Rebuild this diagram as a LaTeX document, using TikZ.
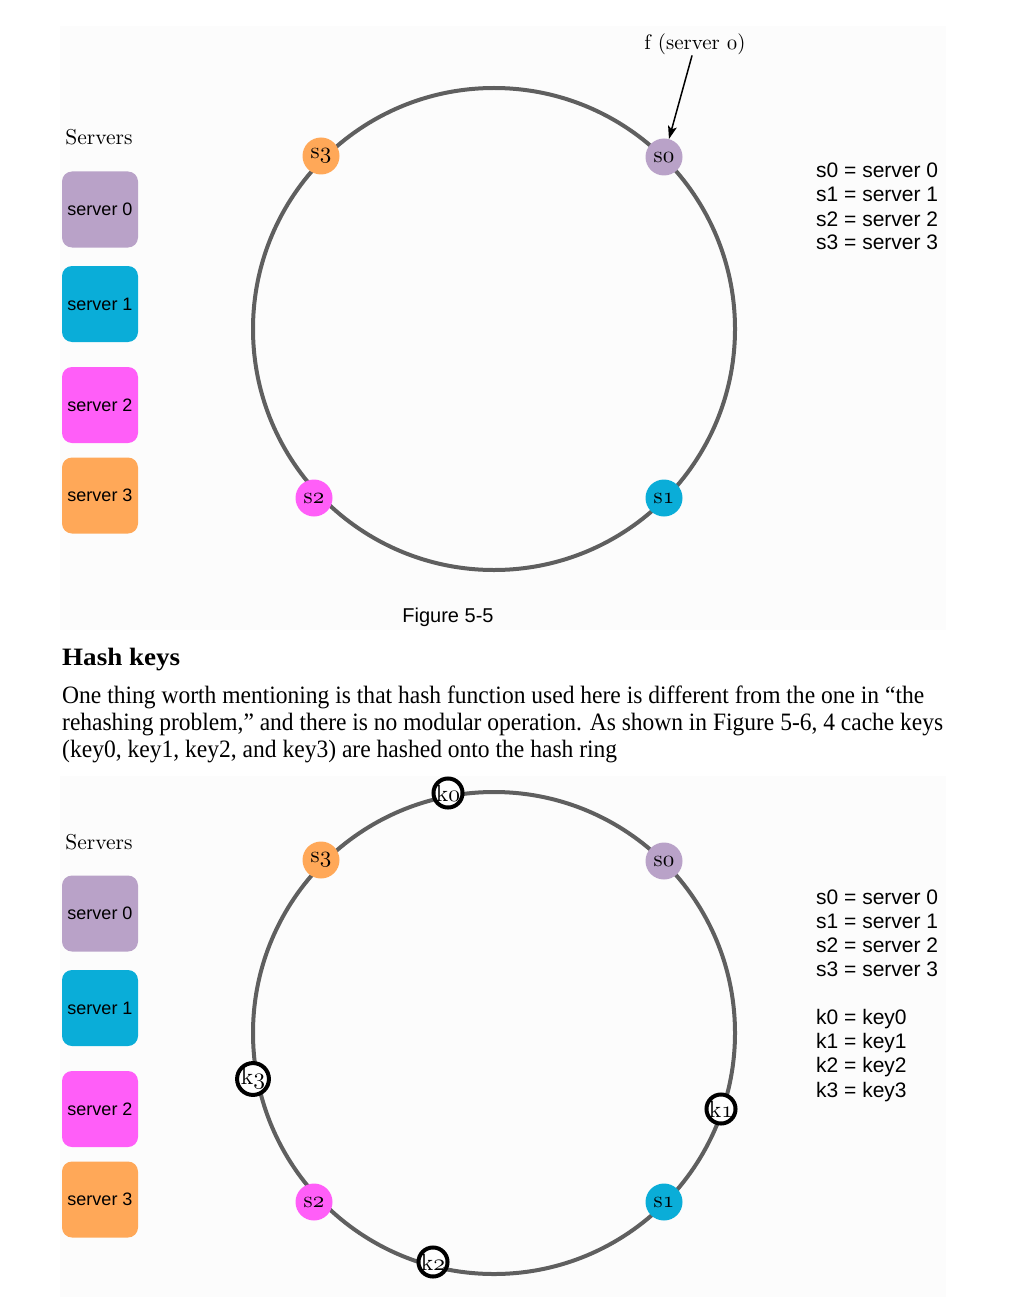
\documentclass[tikz,border=0pt]{standalone}
\usepackage{fontspec}
\usepackage{graphicx}
\newfontfamily\sansf{Liberation Sans}
\newfontfamily\serff{Liberation Serif}
\usetikzlibrary{arrows.meta}
\newcommand\osn[1]{$\mathnormal{#1}$}
\newcommand\lmt[2]{\scalebox{#1}{\fontsize{10}{12}\selectfont #2}}
\definecolor{pnl}{RGB}{252,252,252}
\definecolor{ringc}{RGB}{95,95,95}
\definecolor{cs0}{RGB}{185,162,200}
\definecolor{cs1}{RGB}{10,173,216}
\definecolor{cs2}{RGB}{255,94,248}
\definecolor{cs3}{RGB}{255,168,88}
\begin{document}
\begin{tikzpicture}[x=1pt,y=-1pt,
  ring/.style={draw=ringc,line width=4pt},
  srv/.style={circle,fill=#1,minimum size=37pt,inner sep=0pt},
  keyc/.style={circle,draw=black,line width=4pt,fill=white,minimum size=29pt,inner sep=0pt},
  legbox/.style={rounded corners=10pt,fill=#1,minimum width=76pt,minimum height=76pt,inner sep=0pt,font=\sansf\fontsize{18}{18}\selectfont},
  legtxt/.style={anchor=base west,inner sep=0pt,font=\sansf\fontsize{21}{24}\selectfont},
  serftitle/.style={anchor=base,inner sep=0pt},
  para/.style={anchor=base west,inner sep=0pt,font=\serff\fontsize{25}{25}\selectfont},
  ptr/.style={-{Stealth[length=13pt,width=9pt,inset=3pt]},line width=1.5pt}]
\useasboundingbox (0,0) rectangle (1026,1297);
\fill[white] (0,0) rectangle (1026,1297);
% panels
\fill[pnl] (60,26) rectangle (946,630);
\fill[pnl] (60,776) rectangle (946,1297);

% ===== Figure 5-5 =====
\node[serftitle] (servA) at (99,145) {\lmt{2.15}{Servers}};
\node[legbox=cs0] (b0A) at (100,209.5) {server 0};
\node[legbox=cs1] (b1A) at (100,304) {server 1};
\node[legbox=cs2] (b2A) at (100,405) {server 2};
\node[legbox=cs3] (b3A) at (100,495.5) {server 3};

\draw[ring] (494,329) circle[radius=241];
\node[srv=cs3] (s3A) at (321,156) {\lmt{2.3}{s\osn{3}}};
\node[srv=cs0] (s0A) at (664,157) {\lmt{2.3}{s\osn{0}}};
\node[srv=cs2] (s2A) at (314,498) {\lmt{2.3}{s\osn{2}}};
\node[srv=cs1] (s1A) at (664,498) {\lmt{2.3}{s\osn{1}}};

\node[serftitle] (fA) at (695,50) {\lmt{2.1}{f (server \osn{0})}};
\draw[ptr] (fA) -- (s0A);

\node[legtxt] (l0A) at (816,178) {s0 = server 0};
\node[legtxt] (l1A) at (816,202) {s1 = server 1};
\node[legtxt] (l2A) at (816,226) {s2 = server 2};
\node[legtxt] (l3A) at (816,250) {s3 = server 3};

\node[anchor=base,inner sep=0pt,font=\sansf\fontsize{20}{20}\selectfont] (capA) at (448,622) {Figure 5-5};

% ===== text =====
\node[anchor=base west,inner sep=0pt,font=\serff\bfseries\fontsize{25}{25}\selectfont] (hk) at (62,665)
  {\resizebox{118pt}{\height}{Hash keys}};
\node[para] (p1) at (62,703) {\resizebox{862pt}{\height}{One thing worth mentioning is that hash function used here is different from the one in \textquotedblleft the}};
\node[para] (p2) at (62,730) {\resizebox{881pt}{\height}{rehashing problem,\textquotedblright\ and there is no modular operation. As shown in Figure 5-6, 4 cache keys}};
\node[para] (p3) at (62,757) {\resizebox{555pt}{\height}{(key0, key1, key2, and key3) are hashed onto the hash ring}};

% ===== Figure 5-6 =====
\node[serftitle] (servB) at (99,849) {\lmt{2.15}{Servers}};
\node[legbox=cs0] (b0B) at (100,913.5) {server 0};
\node[legbox=cs1] (b1B) at (100,1008) {server 1};
\node[legbox=cs2] (b2B) at (100,1109) {server 2};
\node[legbox=cs3] (b3B) at (100,1199.5) {server 3};

\draw[ring] (494,1033) circle[radius=241];
\node[srv=cs3] (s3B) at (321,860) {\lmt{2.3}{s\osn{3}}};
\node[srv=cs0] (s0B) at (664,861) {\lmt{2.3}{s\osn{0}}};
\node[srv=cs2] (s2B) at (314,1202) {\lmt{2.3}{s\osn{2}}};
\node[srv=cs1] (s1B) at (664,1202) {\lmt{2.3}{s\osn{1}}};

\node[keyc] (k0B) at (448,793) {\lmt{2.35}{k\osn{0}}};
\node[keyc] (k3B) at (253,1079) {\lmt{2.35}{k\osn{3}}};
\node[keyc] (k1B) at (721,1109) {\lmt{2.35}{k\osn{1}}};
\node[keyc] (k2B) at (433,1262) {\lmt{2.35}{k\osn{2}}};

\node[legtxt] (l0B) at (816,904) {s0 = server 0};
\node[legtxt] (l1B) at (816,928) {s1 = server 1};
\node[legtxt] (l2B) at (816,952) {s2 = server 2};
\node[legtxt] (l3B) at (816,976) {s3 = server 3};
\node[legtxt] (m0B) at (816,1024) {k0 = key0};
\node[legtxt] (m1B) at (816,1048) {k1 = key1};
\node[legtxt] (m2B) at (816,1072) {k2 = key2};
\node[legtxt] (m3B) at (816,1097) {k3 = key3};
\end{tikzpicture}
\end{document}
